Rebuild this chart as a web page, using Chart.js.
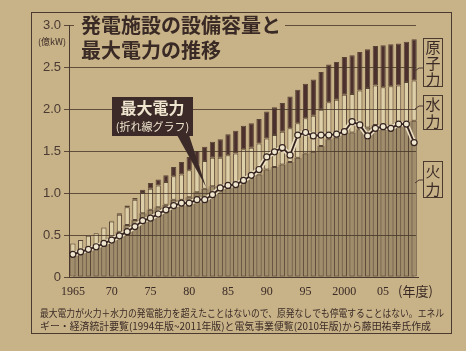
<!DOCTYPE html>
<html lang="ja">
<head>
<meta charset="utf-8">
<title>発電施設の設備容量と最大電力の推移</title>
<script src="https://cdn.jsdelivr.net/npm/chart.js@4.4.1/dist/chart.umd.min.js"></script>
<style>
  html, body { margin: 0; padding: 0; background: #c6b087; }
  #wrap { width: 466px; height: 351px; }
</style>
</head>
<body>
<div id="wrap"><canvas id="capacityChart" width="466" height="351"></canvas></div>
<script>
// 年度 (fiscal years)
var years = [1965, 1966, 1967, 1968, 1969, 1970, 1971, 1972, 1973, 1974,
             1975, 1976, 1977, 1978, 1979, 1980, 1981, 1982, 1983, 1984,
             1985, 1986, 1987, 1988, 1989, 1990, 1991, 1992, 1993, 1994,
             1995, 1996, 1997, 1998, 1999, 2000, 2001, 2002, 2003, 2004,
             2005, 2006, 2007, 2008, 2009];

// 設備容量 (億kW)
var fire = [0.25, 0.28, 0.31, 0.34, 0.40, 0.47, 0.54, 0.62, 0.68, 0.76,
            0.80, 0.83, 0.86, 0.92, 0.92, 0.95, 1.01, 1.05, 1.08, 1.08,
            1.10, 1.12, 1.16, 1.18, 1.22, 1.28, 1.31, 1.34, 1.37, 1.42,
            1.47, 1.49, 1.56, 1.64, 1.66, 1.71, 1.72, 1.76, 1.78, 1.81,
            1.79, 1.80, 1.80, 1.84, 1.86];
var hydro = [0.15, 0.16, 0.18, 0.18, 0.19, 0.19, 0.20, 0.21, 0.24, 0.24,
             0.25, 0.26, 0.27, 0.28, 0.30, 0.32, 0.33, 0.33, 0.34, 0.34,
             0.35, 0.35, 0.36, 0.36, 0.37, 0.37, 0.38, 0.39, 0.40, 0.41,
             0.42, 0.43, 0.43, 0.44, 0.45, 0.46, 0.46, 0.46, 0.47, 0.47,
             0.47, 0.47, 0.48, 0.48, 0.48];
var nuclear = [0, 0, 0, 0, 0, 0.01, 0.02, 0.02, 0.02, 0.04,
               0.07, 0.07, 0.08, 0.11, 0.15, 0.16, 0.16, 0.17, 0.19, 0.22,
               0.25, 0.27, 0.28, 0.29, 0.29, 0.32, 0.33, 0.34, 0.38, 0.40,
               0.41, 0.43, 0.45, 0.45, 0.45, 0.45, 0.46, 0.46, 0.46, 0.47,
               0.50, 0.50, 0.50, 0.48, 0.49];

// 最大電力 (億kW)
var peak = [0.27, 0.30, 0.33, 0.36, 0.40, 0.44, 0.49, 0.54, 0.60, 0.67,
            0.70, 0.75, 0.80, 0.85, 0.88, 0.88, 0.92, 0.92, 0.98, 1.06,
            1.09, 1.10, 1.15, 1.21, 1.28, 1.43, 1.49, 1.54, 1.45, 1.69,
            1.72, 1.68, 1.69, 1.69, 1.70, 1.73, 1.85, 1.81, 1.68, 1.77,
            1.79, 1.77, 1.82, 1.82, 1.60];

var tickYears = [1965, 1970, 1975, 1980, 1985, 1990, 1995, 2000, 2005];
var tickTexts = ['1965', '70', '75', '80', '85', '90', '95', '2000', '05'];

var PAGE = '#c8b288';
var INK = '#3a2a25';
var EDGE = '#5a4636';

// horizontal rules between the bars and the line
var gridOver = {
  id: 'gridOver',
  beforeDatasetDraw: function(chart, args) {
    if (args.index !== 4) return;
    var ctx = chart.ctx, a = chart.chartArea, y = chart.scales.y;
    ctx.save();
    ctx.strokeStyle = 'rgba(70,52,40,0.8)';
    ctx.lineWidth = 1;
    y.ticks.forEach(function(t) {
      if (t.value === 0) return;
      var py = Math.round(y.getPixelForValue(t.value)) + 0.5;
      ctx.beginPath();
      ctx.moveTo(a.left, py);
      ctx.lineTo(a.right - 2, py);
      ctx.stroke();
    });
    ctx.restore();
  }
};

var decorations = {
  id: 'decorations',
  beforeDraw: function(chart) {
    var ctx = chart.ctx;
    ctx.save();
    ctx.fillStyle = PAGE;
    ctx.fillRect(0, 0, chart.width, chart.height);
    ctx.strokeStyle = '#4a3a30';
    ctx.lineWidth = 1;
    ctx.strokeRect(31.5, 12.5, 420, 321);
    ctx.restore();
  },
  afterDraw: function(chart) {
    var ctx = chart.ctx;
    ctx.save();

    // title, sitting over the 3.0 rule
    ctx.fillStyle = PAGE;
    ctx.fillRect(74, 13, 211, 50);
    ctx.fillStyle = INK;
    ctx.font = 'bold 20px "Noto Sans CJK JP"';
    ctx.textBaseline = 'middle';
    ctx.textAlign = 'left';
    ctx.fillText('発電施設の設備容量と', 81, 25);
    ctx.fillText('最大電力の推移', 81, 50);

    // unit
    ctx.font = '9px "Noto Sans CJK JP"';
    ctx.textAlign = 'center';
    ctx.fillText('(億kW)', 52, 42);

    // year label
    ctx.font = '13px "Noto Sans CJK JP"';
    ctx.textAlign = 'left';
    ctx.fillText('(年度)', 398, 291);

    // labels on the right
    var boxes = [
      { text: '原子力', top: 38, bottom: 86, hook: 68 },
      { text: '水力', top: 95, bottom: 129, hook: 106 },
      { text: '火力', top: 161, bottom: 197, hook: 180 }
    ];
    ctx.strokeStyle = '#4a3a30';
    ctx.lineWidth = 1;
    ctx.font = '15px "Noto Sans CJK JP"';
    ctx.textAlign = 'center';
    boxes.forEach(function(b) {
      ctx.strokeRect(423.5, b.top + 0.5, 19, b.bottom - b.top);
      ctx.beginPath();
      ctx.moveTo(415, b.hook + 3);
      ctx.lineTo(419, b.hook);
      ctx.lineTo(423.5, b.hook);
      ctx.stroke();
      var n = b.text.length;
      var step = (b.bottom - b.top) / n;
      for (var i = 0; i < n; i++) {
        ctx.fillText(b.text[i], 433, b.top + step * (i + 0.5) + 1);
      }
    });

    // callout for the line
    ctx.fillStyle = '#3b2a27';
    ctx.beginPath();
    ctx.moveTo(177, 135);
    ctx.lineTo(189, 135);
    ctx.lineTo(206, 187);
    ctx.closePath();
    ctx.fill();
    ctx.fillRect(112, 97, 81, 39);
    ctx.fillStyle = '#efe5cf';
    ctx.font = 'bold 16px "Noto Sans CJK JP"';
    ctx.fillText('最大電力', 152.5, 108);
    ctx.font = '11px "Noto Sans CJK JP"';
    ctx.fillText('(折れ線グラフ)', 152.5, 127);

    // note
    ctx.fillStyle = INK;
    ctx.font = '10px "Noto Sans CJK JP"';
    ctx.textAlign = 'left';
    ctx.fillText('最大電力が火力＋水力の発電能力を超えたことはないので、原発なしでも停電することはない。エネル', 40, 313, 404);
    ctx.fillText('ギー・経済統計要覧(1994年版~2011年版)と電気事業便覧(2010年版)から藤田祐幸氏作成', 40, 326, 391);

    ctx.restore();
  }
};

function barSet(label, data, color) {
  return {
    type: 'bar',
    label: label,
    data: data,
    stack: 'capacity',
    backgroundColor: color,
    borderColor: EDGE,
    borderWidth: 1,
    borderSkipped: false,
    barPercentage: 0.68,
    categoryPercentage: 1.0,
    order: 2
  };
}

function drawChart(canvasId) {
  new Chart(canvasId, {
    data: {
      labels: years,
      datasets: [
        barSet('火力', fire, '#a08d6c'),
        barSet('水力', hydro, '#ddcfa8'),
        barSet('原子力', nuclear, '#4b302e'),
        {
          type: 'line',
          label: '火力 (area)',
          data: fire,
          stack: 'area',
          stepped: 'middle',
          fill: 'origin',
          backgroundColor: '#a08d6c',
          borderWidth: 0,
          pointRadius: 0,
          order: 3
        },
        {
          type: 'line',
          label: 'halo',
          data: peak,
          stack: 'halo',
          borderColor: '#ebdfc2',
          borderWidth: 5,
          pointRadius: 0,
          fill: false,
          order: 1
        },
        {
          type: 'line',
          label: '最大電力',
          data: peak,
          stack: 'peak',
          borderColor: '#35231f',
          borderWidth: 1.8,
          pointRadius: 3,
          pointBackgroundColor: '#efe7cf',
          pointBorderColor: '#35231f',
          pointBorderWidth: 1.2,
          fill: false,
          order: 0
        }
      ]
    },
    options: {
      responsive: false,
      animation: false,
      layout: { padding: { top: 25, right: 48, bottom: 54, left: 0 } },
      plugins: {
        legend: { display: false },
        tooltip: { enabled: false }
      },
      scales: {
        x: {
          stacked: true,
          offset: true,
          grid: { display: false, drawTicks: false },
          border: { display: true, color: '#4a3a30', width: 1 },
          ticks: {
            autoSkip: false,
            maxRotation: 0,
            padding: 8,
            color: INK,
            font: { family: 'Liberation Serif', size: 12 },
            callback: function(value, index) {
              var k = tickYears.indexOf(years[index]);
              return k >= 0 ? tickTexts[k] : '';
            }
          },
          afterFit: function(scale) { scale.height = 20; }
        },
        y: {
          stacked: true,
          min: 0,
          max: 3,
          grid: { drawOnChartArea: false, tickLength: 5, color: '#5a4838' },
          border: { display: true, color: '#4a3a30', width: 1 },
          ticks: {
            stepSize: 0.5,
            padding: 3,
            color: '#4a3a32',
            font: { family: 'Liberation Sans', size: 13 },
            callback: function(v) { return v === 0 ? '0' : v.toFixed(1); }
          },
          afterFit: function(scale) { scale.width = 69; }
        }
      }
    },
    plugins: [decorations, gridOver]
  });
}

document.addEventListener('DOMContentLoaded', function() {
  drawChart('capacityChart');
});
</script>
</body>
</html>
